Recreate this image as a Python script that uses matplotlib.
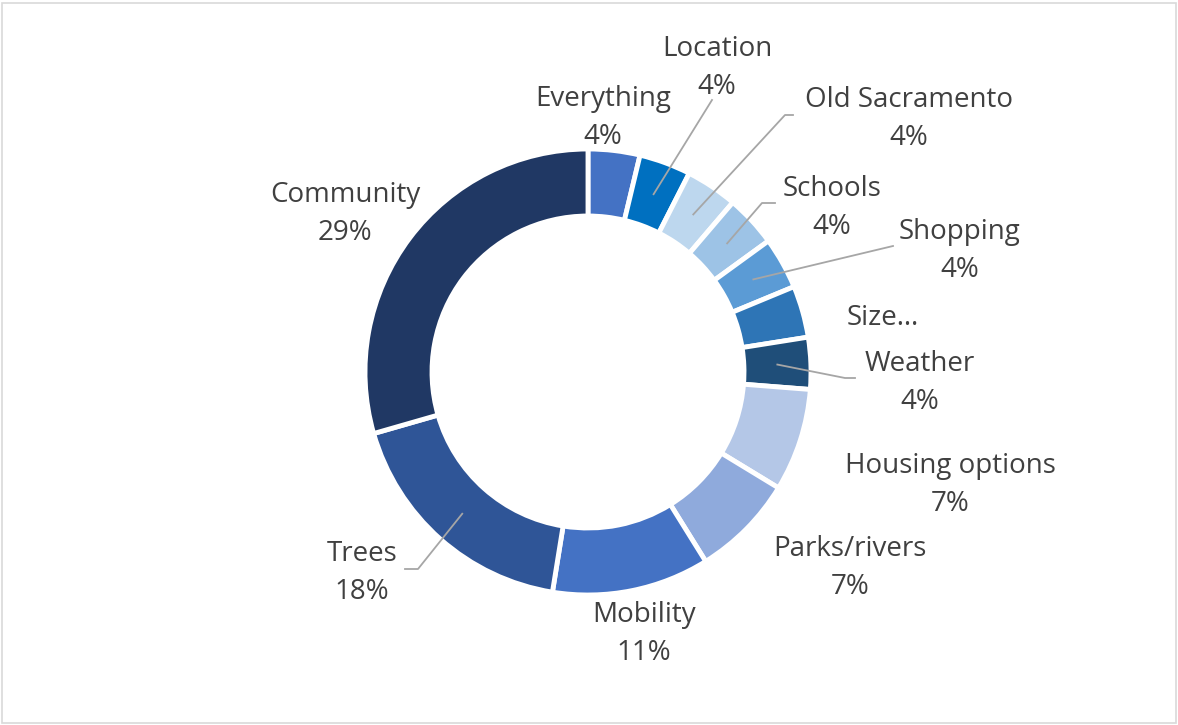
import numpy as np
import matplotlib.pyplot as plt
from matplotlib.patches import Rectangle

labels = ["Everything", "Location", "Old Sacramento", "Schools", "Shopping",
          "Size\u2026", "Weather", "Housing options", "Parks/rivers",
          "Mobility", "Trees", "Community"]
values = [3.75, 3.75, 3.75, 3.75, 3.75, 3.75, 3.75, 7.45, 7.45, 11.4, 18.0, 29.45]
colors = ["#4472C4", "#0070C0", "#BDD7EE", "#9DC3E6", "#5B9BD5", "#2E75B6",
          "#1F4E79", "#B4C7E7", "#8FAADC", "#4472C4", "#2F5597", "#203864"]

W, H = 1178, 725
fig = plt.figure(figsize=(W / 100, H / 100), dpi=100)
ax = fig.add_axes([0, 0, 1, 1])

# donut, clockwise from the top on screen (y axis is flipped to pixel coords)
cx, cy, R, width = 588, 372, 223, 67
wedges, _ = ax.pie(values, colors=colors, startangle=-90, counterclock=True,
                   radius=R, center=(cx, cy), frame=True,
                   wedgeprops=dict(width=width, edgecolor="white", linewidth=3.5))
ax.set_xlim(0, W)
ax.set_ylim(H, 0)
ax.set_aspect("equal")
ax.axis("off")

# label positions (text centre) and leader elbow points
label_pos = {
    "Everything": (603, 118),
    "Location": (717, 68),
    "Old Sacramento": (909, 119),
    "Schools": (832, 208),
    "Shopping": (960, 251),
    "Size\u2026": (883, 318),
    "Weather": (920, 383),
    "Housing options": (950, 485),
    "Parks/rivers": (850, 568),
    "Mobility": (644, 634),
    "Trees": (362, 573),
    "Community": (345, 214),
}
leaders = {
    "Location": [(712, 100)],
    "Old Sacramento": [(793, 115), (785, 115)],
    "Schools": [(775, 203), (762, 203)],
    "Shopping": [(893, 246)],
    "Weather": [(855, 378), (845, 378)],
    "Trees": [(405, 569), (418, 569)],
}

total = sum(values)
for w, lab, v in zip(wedges, labels, values):
    x, y = label_pos[lab]
    txt = lab if lab.startswith("Size") else f"{lab}\n{v / total:.0%}"
    ax.text(x, y, txt, ha="center", va="center", fontsize=20,
            color="#404040", family="Open Sans", linespacing=1.43)
    if lab in leaders:
        mid = np.deg2rad((w.theta1 + w.theta2) / 2)
        rm = R - width / 2
        px, py = cx + rm * np.cos(mid), cy + rm * np.sin(mid)
        pts = leaders[lab] + [(px, py)]
        ax.plot([p[0] for p in pts], [p[1] for p in pts], color="#A6A6A6", lw=1.3)

ax.add_patch(Rectangle((2, 3), W - 4, H - 5, fill=False, edgecolor="#D9D9D9", lw=1.2))

fig.savefig("out.png", dpi=100)
